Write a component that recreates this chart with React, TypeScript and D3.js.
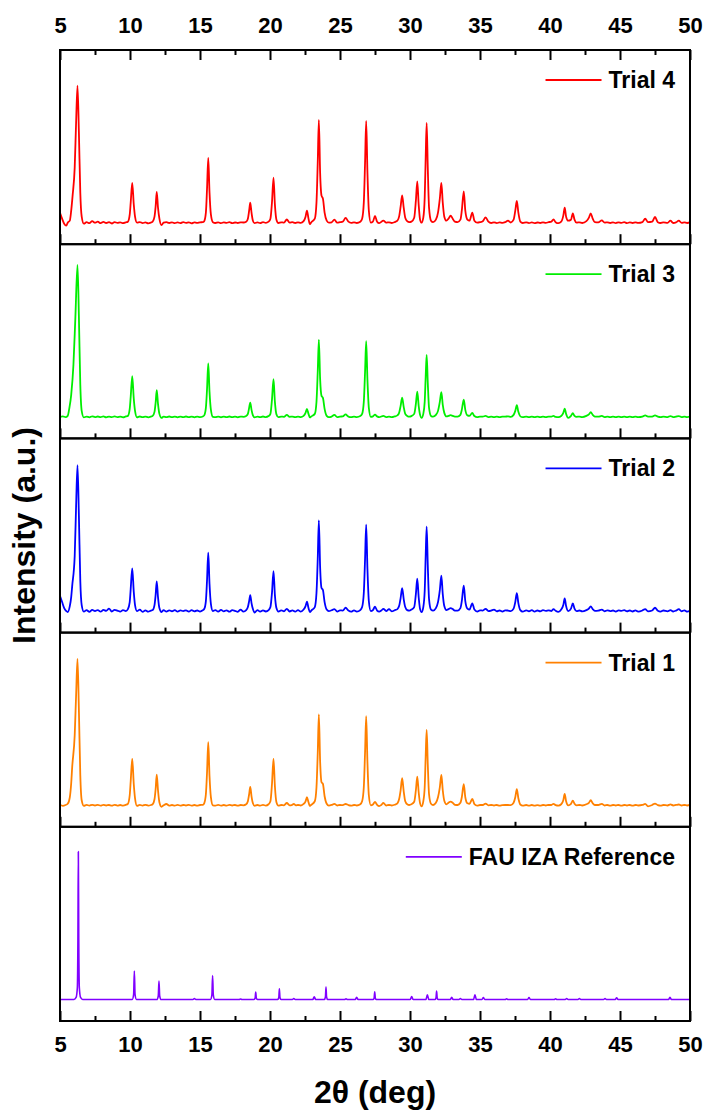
import React, { useRef, useEffect } from "react";
import * as d3 from "d3";

// x axis ticks (2 theta, deg)
const majorTicks = [5, 10, 15, 20, 25, 30, 35, 40, 45, 50];
const minorTicks = [7.5, 12.5, 17.5, 22.5, 27.5, 32.5, 37.5, 42.5, 47.5];

const seriesNames = ["Trial 4", "Trial 3", "Trial 2", "Trial 1", "FAU IZA Reference"];
const seriesColors = ["#ff0000", "#00ee00", "#0000ff", "#ff8000", "#8000ff"];

// [2theta, intensity a.u.]
const trial4 = [
  [5.0, 10], [5.15, 4], [5.3, -1], [5.45, -3], [5.55, 0], [5.7, 2], [5.8, 12], [5.9, 27], [6.05, 55], [6.15, 100], [6.25, 137], [6.35, 90], [6.45, 30], [6.55, 6], [6.7, -1],
  [6.9, 0.5], [7.1, -0.5], [7.3, 1.5], [7.5, 0], [7.7, 1], [7.9, -0.5], [8.1, 0.8], [8.3, -0.3], [8.5, 0.5], [8.7, -0.8], [8.9, 0.6], [9.1, -0.2], [9.3, 0.4], [9.5, -0.5], [9.7, 0.3],
  [9.85, 1], [9.98, 8], [10.05, 20], [10.16, 39.7], [10.27, 18], [10.36, 6], [10.5, 0],
  [10.7, 0.6], [10.9, -0.4], [11.1, 0.3], [11.3, -0.6], [11.5, 0.2],
  [11.62, 1], [11.75, 6], [11.83, 16], [11.91, 30.7], [12.0, 15], [12.1, 4], [12.25, -2.5], [12.4, 0],
  [12.6, 0.5], [12.8, -0.3], [13.0, 0.4], [13.2, -0.5], [13.4, 0.3], [13.6, -0.4], [13.8, 0.5], [14.0, -0.2], [14.2, 0.4], [14.4, -0.6], [14.6, 0.3], [14.8, -0.2], [15.0, 0.4], [15.2, 0.5],
  [15.3, 1.5], [15.42, 10], [15.5, 33], [15.59, 64.7], [15.68, 30], [15.78, 8], [15.92, 0.5],
  [16.1, -0.3], [16.3, 0.4], [16.5, -0.5], [16.7, 0.3], [16.9, -0.2], [17.1, 0.5], [17.3, -0.4], [17.5, 0.2], [17.7, -0.3], [17.9, 0.4], [18.1, 0.2], [18.3, 1],
  [18.42, 4], [18.51, 12], [18.59, 20], [18.68, 10], [18.78, 2], [18.9, -0.5],
  [19.1, 0.3], [19.3, -0.4], [19.5, 0.5], [19.7, -0.2], [19.9, 1],
  [20.03, 4], [20.14, 20], [20.25, 45], [20.35, 18], [20.46, 3], [20.6, -0.3],
  [20.8, 0.4], [21.0, 0], [21.2, 3.3], [21.4, 0], [21.6, 0.5], [21.8, -0.3], [22.0, 0.4], [22.2, -0.2], [22.4, 1.5],
  [22.54, 6], [22.64, 12], [22.75, 4], [22.85, -1.5], [22.95, 0.5],
  [23.2, 4], [23.32, 20], [23.41, 60], [23.49, 102.7], [23.58, 50], [23.68, 27], [23.78, 24], [23.9, 10], [24.05, 2], [24.2, 0],
  [24.4, 0.4], [24.6, 3], [24.8, 0], [25.0, 0.5], [25.2, 1], [25.4, 4.7], [25.6, 1], [25.8, -0.2], [26.0, 0.3], [26.2, -0.3], [26.45, 1],
  [26.58, 4], [26.7, 20], [26.79, 60], [26.87, 101.7], [26.96, 50], [27.06, 12], [27.2, 0],
  [27.35, 1], [27.5, 6.7], [27.65, 1], [27.8, -0.5], [28.1, 2], [28.3, 0], [28.5, 0.4], [28.7, -0.3], [28.9, 0.5], [29.1, 2],
  [29.22, 6], [29.33, 16], [29.44, 27.3], [29.55, 15], [29.66, 5], [29.8, 1.5], [29.95, 0.5], [30.1, 1],
  [30.3, 5], [30.42, 22], [30.52, 41.3], [30.62, 18], [30.72, 3], [30.83, 0],
  [30.95, 5], [31.05, 25], [31.12, 65], [31.19, 99.7], [31.27, 55], [31.36, 15], [31.5, 2], [31.65, 0.5], [31.85, 3],
  [32.0, 10], [32.13, 24], [32.24, 39.7], [32.34, 20], [32.45, 6], [32.6, 2],
  [32.75, 4], [32.9, 7], [33.05, 4], [33.2, 1], [33.4, 0.5], [33.6, 3],
  [33.7, 12], [33.84, 31.3], [33.95, 12], [34.1, 3], [34.25, 2],
  [34.45, 10], [34.6, 2], [34.8, 0], [35.0, 0.5], [35.2, 1.5], [35.4, 5.3], [35.6, 1], [35.8, -0.3], [36.0, 0.4], [36.2, -0.4], [36.4, 0.3], [36.6, -0.2], [36.8, 0.5], [37.0, 2], [37.2, 0.2], [37.4, 3],
  [37.52, 12], [37.63, 21.7], [37.74, 10], [37.88, 1], [38.05, -0.3], [38.3, 0.4], [38.5, -0.4], [38.7, 0.3], [38.9, -0.5], [39.1, 0.2], [39.3, -0.3], [39.5, 0.4], [39.7, -0.2], [39.9, 0.5], [40.1, 1],
  [40.25, 3.3], [40.4, 0.5], [40.6, -0.5], [40.8, 1],
  [40.95, 7], [41.05, 15], [41.15, 6], [41.3, 2],
  [41.5, 3], [41.63, 9.3], [41.75, 3], [41.9, 0], [42.1, 0.4], [42.3, -0.3], [42.6, 1.5],
  [42.78, 5], [42.91, 9.3], [43.05, 4], [43.2, 0.5], [43.45, 0.3], [43.7, 2.3], [43.9, 0], [44.1, 0.4], [44.3, -0.3], [44.5, 0.3], [44.7, -0.4], [44.9, 0.4], [45.1, -0.2], [45.3, 0.5], [45.5, -0.4], [45.7, 0.3], [45.9, -0.3], [46.1, 0.4], [46.3, -0.2], [46.6, 0.6],
  [46.8, 4], [47.0, 0.5], [47.3, 1], [47.5, 5.7], [47.7, 0.5], [47.9, -0.3], [48.1, 0.4], [48.4, -0.2], [48.6, 2], [48.8, -0.3], [49.0, 0.3], [49.2, 2], [49.4, -0.2], [49.6, 0.4], [49.8, -0.3], [50.0, 0.2],
];

const trial3 = [
  [5.0, 0], [5.2, 0.5], [5.4, -0.3], [5.55, 1], [5.67, 9], [5.8, 22], [5.96, 52], [6.1, 100], [6.25, 151.7], [6.35, 100], [6.45, 32], [6.55, 6], [6.7, -0.5],
  [6.9, 0.3], [7.1, -0.4], [7.3, 0.6], [7.5, -0.2], [7.7, 0.4], [7.9, -0.3], [8.1, 0.5], [8.3, -0.4], [8.5, 0.3], [8.7, -0.2], [8.9, 0.5], [9.1, -0.3], [9.3, 0.2], [9.5, -0.4], [9.7, 0.4],
  [9.85, 1], [9.98, 8], [10.05, 20], [10.16, 40.7], [10.27, 18], [10.36, 6], [10.5, -0.5],
  [10.7, 0.4], [10.9, -0.3], [11.1, 0.3], [11.3, -0.4], [11.5, 0.3],
  [11.62, 1], [11.75, 5], [11.83, 14], [11.91, 26.7], [12.0, 13], [12.1, 3], [12.25, -1], [12.4, 0.3],
  [12.6, -0.3], [12.8, 0.4], [13.0, -0.3], [13.2, 0.3], [13.4, -0.4], [13.6, 0.3], [13.8, -0.2], [14.0, 0.4], [14.2, -0.3], [14.4, 0.3], [14.6, -0.4], [14.8, 0.3], [15.0, -0.2], [15.2, 0.4],
  [15.3, 1.5], [15.42, 9], [15.5, 27], [15.59, 53.3], [15.68, 25], [15.78, 7], [15.92, 0],
  [16.1, -0.3], [16.3, 0.3], [16.5, -0.4], [16.7, 0.2], [16.9, -0.3], [17.1, 0.4], [17.3, -0.3], [17.5, 0.3], [17.7, -0.4], [17.9, 0.3], [18.1, 0], [18.3, 0.8],
  [18.42, 3], [18.51, 9], [18.59, 14.3], [18.68, 7], [18.78, 1.5], [18.9, -0.5],
  [19.1, 0.3], [19.3, -0.3], [19.5, 0.4], [19.7, -0.2], [19.9, 0.8],
  [20.03, 3], [20.14, 17], [20.25, 37.7], [20.35, 15], [20.46, 2.5], [20.6, -0.3],
  [20.8, 0.3], [21.0, 0], [21.2, 2], [21.4, 0], [21.6, 0.3], [21.8, -0.3], [22.0, 0.3], [22.2, -0.2], [22.4, 1],
  [22.54, 4], [22.64, 8], [22.75, 3], [22.85, -0.5], [22.95, 0.5],
  [23.2, 3], [23.32, 15], [23.41, 45], [23.49, 77], [23.58, 38], [23.68, 21], [23.78, 19], [23.9, 8], [24.05, 1], [24.2, -0.3],
  [24.4, 0.3], [24.6, 2], [24.8, -0.2], [25.0, 0.3], [25.2, 0.5], [25.4, 2.5], [25.6, 0.3], [25.8, -0.3], [26.0, 0.3], [26.2, -0.2], [26.45, 0.8],
  [26.58, 3], [26.7, 15], [26.79, 45], [26.87, 75.7], [26.96, 37], [27.06, 9], [27.2, 0],
  [27.35, 0.5], [27.5, 2.3], [27.65, 0.5], [27.8, -0.3], [28.1, 1], [28.3, -0.2], [28.5, 0.3], [28.7, -0.3], [28.9, 0.4], [29.1, 1.5],
  [29.22, 4], [29.33, 11], [29.44, 19.3], [29.55, 10], [29.66, 3], [29.8, 1], [29.95, 0.3], [30.1, 0.8],
  [30.3, 3], [30.42, 13], [30.52, 25.3], [30.62, 11], [30.72, 2], [30.83, -1],
  [30.95, 3], [31.05, 15], [31.12, 40], [31.19, 62], [31.27, 34], [31.36, 9], [31.5, 1], [31.65, 0.3], [31.85, 2],
  [32.0, 6], [32.13, 15], [32.24, 24.7], [32.34, 12], [32.45, 4], [32.6, 0.5],
  [32.75, 1], [32.9, 1.7], [33.05, 1], [33.2, 0.3], [33.4, 0.2], [33.6, 2],
  [33.7, 7], [33.84, 17.3], [33.95, 7], [34.1, 1.5], [34.25, 1],
  [34.45, 4], [34.6, 0.8], [34.8, -0.3], [35.0, 0.3], [35.2, 0.2], [35.4, 1], [35.6, -0.2], [35.8, 0.3], [36.0, -0.2], [36.2, 0.3], [36.4, -0.3], [36.6, 0.2], [36.8, 0.3], [37.0, 0.5], [37.2, 0], [37.4, 2],
  [37.52, 6], [37.63, 11.7], [37.74, 5], [37.88, 0.5], [38.05, -0.3], [38.3, 0.3], [38.5, -0.3], [38.7, 0.3], [38.9, -0.3], [39.1, 0.2], [39.3, -0.3], [39.5, 0.3], [39.7, -0.2], [39.9, 0.3], [40.1, 0.3],
  [40.25, 1], [40.4, 0], [40.6, -0.3], [40.8, 0.8],
  [40.95, 4], [41.05, 8.3], [41.15, 3], [41.3, -1],
  [41.5, 1], [41.63, 3.7], [41.75, 1], [41.9, 0], [42.1, 0.3], [42.3, -0.2], [42.6, 1],
  [42.78, 2.5], [42.91, 4.7], [43.05, 2], [43.2, 0.3], [43.45, 0.2], [43.7, 1], [43.9, -0.2], [44.1, 0.3], [44.3, -0.3], [44.5, 0.2], [44.7, -0.3], [44.9, 0.3], [45.1, -0.2], [45.3, 0.3], [45.5, -0.3], [45.7, 0.2], [45.9, -0.3], [46.1, 0.3], [46.3, -0.2], [46.6, 0.3],
  [46.8, 1.5], [47.0, 0.2], [47.3, 0.3], [47.5, 1.5], [47.7, 0.2], [47.9, -0.3], [48.1, 0.3], [48.4, -0.2], [48.6, 0.8], [48.8, -0.2], [49.0, 0.3], [49.2, 0.8], [49.4, -0.2], [49.6, 0.3], [49.8, -0.2], [50.0, 0.2],
];

const trial2 = [
  [5.0, 15], [5.15, 9], [5.3, 3], [5.45, 0], [5.55, -1], [5.7, 5], [5.8, 14], [5.87, 25], [6.05, 55], [6.15, 105], [6.25, 145.7], [6.35, 95], [6.45, 30], [6.55, 6], [6.7, -0.5],
  [6.9, 1], [7.1, -0.8], [7.3, 1.2], [7.5, 0], [7.7, 1], [7.9, -0.6], [8.1, 1.2], [8.3, 0.2], [8.5, 2.5], [8.7, -0.5], [8.9, 1.3], [9.1, 0.5], [9.3, -0.5], [9.5, 1], [9.7, 0],
  [9.85, 2], [9.98, 9], [10.05, 22], [10.16, 42.7], [10.27, 19], [10.36, 6], [10.5, 0],
  [10.7, 1.5], [10.9, -0.8], [11.1, 0.8], [11.3, -0.6], [11.5, 0.5],
  [11.62, 1], [11.75, 6], [11.83, 16], [11.91, 29.7], [12.0, 14], [12.1, 3], [12.25, -1], [12.4, 1],
  [12.6, -0.5], [12.8, 0.8], [13.0, -0.3], [13.2, 1], [13.4, -0.6], [13.6, 0.7], [13.8, 0], [14.0, 0.8], [14.2, -0.5], [14.4, 1], [14.6, -0.3], [14.8, 0.6], [15.0, -0.5], [15.2, 0.8],
  [15.3, 2], [15.42, 10], [15.5, 30], [15.59, 58.3], [15.68, 27], [15.78, 7], [15.92, 0],
  [16.1, 1], [16.3, -0.5], [16.5, 1.2], [16.7, -0.3], [16.9, 0.8], [17.1, -0.6], [17.3, 0.9], [17.5, 0.2], [17.7, -0.7], [17.9, 1.5], [18.1, -0.5], [18.3, 1],
  [18.42, 4], [18.51, 10], [18.59, 16], [18.68, 8], [18.78, 2], [18.9, -1.5],
  [19.1, 1], [19.3, -0.5], [19.5, 0.8], [19.7, -0.4], [19.9, 1],
  [20.03, 4], [20.14, 18], [20.25, 40], [20.35, 16], [20.46, 3], [20.6, -0.5],
  [20.8, 0.8], [21.0, -0.3], [21.2, 2.3], [21.4, -0.4], [21.6, 0.8], [21.8, -0.5], [22.0, 0.9], [22.2, -0.5], [22.4, 1.5],
  [22.54, 5], [22.64, 9.3], [22.75, 3], [22.85, -1], [22.95, 0.5],
  [23.2, 4], [23.32, 18], [23.41, 52], [23.49, 90.7], [23.58, 44], [23.68, 23], [23.78, 21], [23.9, 9], [24.05, 1.5], [24.2, 0],
  [24.4, 0.8], [24.6, 2], [24.8, -0.5], [25.0, 0.8], [25.2, 0.5], [25.4, 3.3], [25.6, 0.5], [25.8, -0.6], [26.0, 0.8], [26.2, -0.5], [26.45, 1],
  [26.58, 4], [26.7, 18], [26.79, 52], [26.87, 86.3], [26.96, 42], [27.06, 10], [27.2, 0],
  [27.35, 1], [27.5, 4.3], [27.65, 0.5], [27.8, -0.6], [27.95, 0.5], [28.1, 2.3], [28.3, 0], [28.5, 2], [28.7, -0.3], [28.9, 0.8], [29.1, 2],
  [29.22, 5], [29.33, 13], [29.44, 23], [29.55, 12], [29.66, 4], [29.8, 1], [29.95, 0.5], [30.1, 1.5],
  [30.3, 4], [30.42, 17], [30.52, 32.3], [30.62, 14], [30.72, 2], [30.83, -1],
  [30.95, 4], [31.05, 20], [31.12, 55], [31.19, 84.3], [31.27, 46], [31.36, 12], [31.5, 1.5], [31.65, 0.5], [31.85, 3],
  [32.0, 9], [32.13, 21], [32.24, 35.3], [32.34, 17], [32.45, 5], [32.6, 1],
  [32.75, 2], [32.9, 3], [33.05, 2], [33.2, 0.5], [33.4, 0.5], [33.6, 3],
  [33.7, 10], [33.84, 25.3], [33.95, 10], [34.1, 2.5], [34.25, 1.5],
  [34.45, 7.7], [34.6, 1.5], [34.8, -0.5], [35.0, 0.8], [35.2, 0.5], [35.4, 2.3], [35.6, 0], [35.8, 0.5], [36.0, 1.5], [36.2, -0.3], [36.4, 0.6], [36.6, -0.5], [36.8, 0.8], [37.0, 0.5], [37.2, 0], [37.4, 2.5],
  [37.52, 9], [37.63, 18], [37.74, 8], [37.88, 1], [38.05, -0.5], [38.3, 0.8], [38.5, -0.3], [38.7, 1], [38.9, -0.6], [39.1, 0.6], [39.3, -0.3], [39.5, 1], [39.7, 0.2], [39.9, 0.8], [40.1, 0],
  [40.25, 2], [40.4, 0.3], [40.6, -0.8], [40.8, 1.5],
  [40.95, 6], [41.05, 12.7], [41.15, 5], [41.3, 0],
  [41.5, 2.5], [41.63, 7.7], [41.75, 2.5], [41.9, 0], [42.1, 0.6], [42.3, -0.3], [42.6, 1],
  [42.78, 2.5], [42.91, 4.7], [43.05, 2], [43.2, 0.3], [43.45, 0.5], [43.7, 1.5], [43.9, -0.3], [44.1, 0.8], [44.3, 0], [44.5, 0.6], [44.7, -0.5], [44.9, 0.8], [45.1, 0.2], [45.3, 1], [45.5, -0.3], [45.7, 0.6], [45.9, -0.4], [46.1, 0.8], [46.3, -0.5], [46.6, 0.6],
  [46.8, 2], [47.0, -0.3], [47.3, 0.6], [47.5, 3.3], [47.7, 0.3], [47.9, -0.5], [48.1, 0.6], [48.4, -0.3], [48.6, 1], [48.8, -0.4], [49.0, 0.5], [49.2, 2], [49.4, -0.3], [49.6, 0.8], [49.8, -0.6], [50.0, 0.3],
];

const trial1 = [
  [5.0, 0.5], [5.2, -0.5], [5.4, 0.3], [5.55, 1.5], [5.7, 8], [5.8, 22], [5.87, 38], [6.05, 70], [6.15, 110], [6.25, 146.3], [6.35, 95], [6.45, 30], [6.55, 5], [6.7, -0.5],
  [6.9, 0.4], [7.1, -0.3], [7.3, 0.5], [7.5, -0.2], [7.7, 0.4], [7.9, -0.4], [8.1, 0.5], [8.3, -0.2], [8.5, 0.3], [8.7, -0.4], [8.9, 0.5], [9.1, -0.3], [9.3, 0.3], [9.5, -0.3], [9.7, 0.4],
  [9.85, 1.5], [9.98, 10], [10.05, 24], [10.16, 46.3], [10.27, 21], [10.36, 7], [10.5, -0.5],
  [10.7, 0.4], [10.9, -0.3], [11.1, 0.5], [11.3, -0.3], [11.5, 0.3],
  [11.62, 1], [11.75, 6], [11.83, 16], [11.91, 30.7], [12.0, 15], [12.1, 3], [12.25, -1.5], [12.4, 0],
  [12.6, 1.3], [12.8, -0.3], [13.0, 0.3], [13.2, -0.3], [13.4, 0.4], [13.6, -0.3], [13.8, 0.3], [14.0, -0.2], [14.2, 0.4], [14.4, -0.3], [14.6, 0.3], [14.8, -0.3], [15.0, 0.3], [15.2, 0.4],
  [15.3, 2], [15.42, 11], [15.5, 32], [15.59, 63], [15.68, 29], [15.78, 8], [15.92, 0],
  [16.1, -0.3], [16.3, 0.4], [16.5, -0.3], [16.7, 0.3], [16.9, -0.3], [17.1, 0.4], [17.3, -0.2], [17.5, 0.3], [17.7, -0.3], [17.9, 0.3], [18.1, 0], [18.3, 1],
  [18.42, 4], [18.51, 11], [18.59, 18.3], [18.68, 9], [18.78, 2], [18.9, -0.5],
  [19.1, 0.3], [19.3, -0.3], [19.5, 0.4], [19.7, -0.3], [19.9, 1],
  [20.03, 4], [20.14, 21], [20.25, 46.3], [20.35, 19], [20.46, 3], [20.6, -0.3],
  [20.8, 0.3], [21.0, 0], [21.2, 2.3], [21.4, 0], [21.55, 0.2], [21.7, 1.3], [21.85, 0], [22.0, 0.3], [22.2, -0.2], [22.4, 1.3],
  [22.54, 4], [22.64, 8], [22.75, 3], [22.85, -0.8], [22.95, 0.5],
  [23.2, 4], [23.32, 18], [23.41, 52], [23.49, 90.7], [23.58, 44], [23.68, 23], [23.78, 21.3], [23.9, 9], [24.05, 1.5], [24.2, -0.3],
  [24.4, 0.3], [24.6, 1.5], [24.8, -0.2], [25.0, 0.3], [25.2, 0.2], [25.4, 1.3], [25.6, 0.2], [25.8, -0.3], [26.0, 0.3], [26.2, -0.2], [26.45, 1],
  [26.58, 4], [26.7, 18], [26.79, 53], [26.87, 89], [26.96, 43], [27.06, 10], [27.2, 0],
  [27.35, 0.8], [27.5, 3.3], [27.65, 0.5], [27.8, -0.8], [27.95, 0.3], [28.1, 2.3], [28.3, -0.2], [28.5, 0.3], [28.7, -0.2], [28.9, 0.5], [29.1, 2],
  [29.22, 6], [29.33, 15], [29.44, 27], [29.55, 14], [29.66, 4], [29.8, 1], [29.95, 0.3], [30.1, 1],
  [30.3, 3.5], [30.42, 15], [30.52, 28.7], [30.62, 13], [30.72, 2], [30.83, -1],
  [30.95, 4], [31.05, 18], [31.12, 49], [31.19, 75.3], [31.27, 41], [31.36, 11], [31.5, 1.5], [31.65, 0.3], [31.85, 2.5],
  [32.0, 8], [32.13, 18], [32.24, 30.3], [32.34, 15], [32.45, 4.5], [32.6, 1],
  [32.75, 2.5], [32.9, 3.7], [33.05, 2.5], [33.2, 0.5], [33.4, 0.3], [33.6, 2.5],
  [33.7, 8], [33.84, 21], [33.95, 8], [34.1, 2], [34.25, 1.5],
  [34.45, 6.3], [34.6, 1.2], [34.8, -0.3], [35.0, 0.3], [35.2, 0.3], [35.4, 1.7], [35.6, 0], [35.8, 0.3], [36.0, -0.2], [36.2, 0.3], [36.4, -0.3], [36.6, 0.2], [36.8, 0.3], [37.0, 0.3], [37.2, 0.2], [37.4, 2.5],
  [37.52, 8], [37.63, 16], [37.74, 7], [37.88, 0.8], [38.05, -0.3], [38.3, 0.3], [38.5, -0.3], [38.7, 0.3], [38.9, -0.3], [39.1, 0.2], [39.3, -0.3], [39.5, 0.3], [39.7, -0.2], [39.9, 0.3], [40.1, 0.3],
  [40.25, 1.5], [40.4, 0.2], [40.6, -0.3], [40.8, 1],
  [40.95, 5], [41.05, 11.3], [41.15, 4], [41.3, 0],
  [41.5, 1.5], [41.63, 4.7], [41.75, 1.5], [41.9, 0], [42.1, 0.3], [42.3, -0.2], [42.6, 1],
  [42.78, 2.5], [42.91, 5], [43.05, 2], [43.2, 0.3], [43.45, 0.3], [43.7, 1.5], [43.9, -0.2], [44.1, 0.3], [44.3, -0.3], [44.5, 0.3], [44.7, -0.2], [44.9, 0.3], [45.1, -0.3], [45.3, 0.3], [45.5, -0.2], [45.7, 0.3], [45.9, -0.3], [46.1, 0.3], [46.3, -0.2], [46.6, 0.3],
  [46.8, 1.5], [47.0, -1], [47.3, 0.3], [47.5, 1.7], [47.7, 0.2], [47.9, -0.3], [48.1, 0.3], [48.4, -0.2], [48.6, 1], [48.8, -0.2], [49.0, 0.3], [49.2, 0.8], [49.4, -0.2], [49.6, 0.3], [49.8, -0.2], [50.0, 0.3],
];

const fauReference = [
  [5.0, 0], [6.0, 0], [6.15, 2], [6.24, 12], [6.28, 60], [6.31, 147.7], [6.34, 60], [6.38, 12], [6.47, 2], [6.62, 0],
  [10.16, 0], [10.26, 5], [10.31, 28.3], [10.36, 5], [10.46, 0],
  [11.92, 0], [12.02, 3.5], [12.07, 18.3], [12.12, 3.5], [12.22, 0],
  [14.5, 0], [14.6, 1], [14.7, 0],
  [15.75, 0], [15.85, 4.5], [15.9, 24], [15.95, 4.5], [16.05, 0],
  [17.8, 0], [17.9, 0.5], [18.0, 0],
  [18.86, 0], [18.94, 1.5], [18.98, 7.3], [19.02, 1.5], [19.1, 0],
  [20.55, 0], [20.63, 2], [20.67, 10.7], [20.71, 2], [20.79, 0],
  [21.6, 0], [21.7, 1], [21.8, 0],
  [23.06, 0], [23.16, 2.7], [23.26, 0],
  [23.88, 0], [23.96, 2.5], [24.0, 12.3], [24.04, 2.5], [24.12, 0],
  [25.33, 0], [25.43, 0.7], [25.53, 0],
  [26.09, 0], [26.19, 2.3], [26.29, 0],
  [27.38, 0], [27.44, 1.5], [27.48, 7.7], [27.52, 1.5], [27.58, 0],
  [30.02, 0], [30.12, 3], [30.22, 0],
  [31.14, 0], [31.24, 4.7], [31.34, 0],
  [31.8, 0], [31.86, 1.7], [31.9, 8.3], [31.94, 1.7], [32.0, 0],
  [32.88, 0], [32.98, 2.3], [33.08, 0],
  [33.5, 0], [33.6, 1], [33.7, 0],
  [34.54, 0], [34.64, 4.7], [34.74, 0],
  [35.14, 0], [35.24, 2], [35.34, 0],
  [36.8, 0], [36.9, 0.7], [37.0, 0],
  [38.4, 0], [38.5, 2], [38.6, 0],
  [40.3, 0], [40.4, 0.7], [40.5, 0],
  [41.09, 0], [41.19, 1], [41.29, 0],
  [42.0, 0], [42.1, 1], [42.2, 0],
  [43.83, 0], [43.93, 1], [44.03, 0],
  [44.66, 0], [44.76, 1.7], [44.86, 0],
  [48.47, 0], [48.57, 2.3], [48.67, 0],
  [50.0, 0],
];

const seriesData = [trial4, trial3, trial2, trial1, fauReference];

export default function App() {
  const svgRef = useRef<SVGSVGElement>(null);
  const width = 706;
  const height = 1111;

  useEffect(() => {
    const svg = d3.select(svgRef.current);
    svg.selectAll("*").remove();

    const font = "'Liberation Sans', Arial, Helvetica, sans-serif";
    const left = 60, right = 690, top = 50, bottom = 1021;
    const panelH = (bottom - top) / seriesData.length;

    const x = d3.scaleLinear().domain([5, 50]).range([left, right]);

    seriesData.forEach((data, i) => {
      const pTop = top + i * panelH;
      const pBottom = pTop + panelH;
      const y = d3.scaleLinear().domain([-21.5, 172.5]).range([pBottom, pTop]);

      const line = d3
        .line<number[]>()
        .x((d) => x(d[0]))
        .y((d) => y(d[1]))
        .curve(d3.curveMonotoneX);

      svg
        .append("path")
        .datum(data)
        .attr("fill", "none")
        .attr("stroke", seriesColors[i])
        .attr("stroke-width", i === 4 ? 1.6 : 1.8)
        .attr("stroke-linejoin", "round")
        .attr("d", line);

      // inward ticks along the bottom of every panel
      const major = svg
        .append("g")
        .attr("transform", `translate(0,${pBottom})`)
        .call(d3.axisBottom(x).tickValues(majorTicks).tickSize(-10).tickFormat(() => ""));
      const minor = svg
        .append("g")
        .attr("transform", `translate(0,${pBottom})`)
        .call(d3.axisBottom(x).tickValues(minorTicks).tickSize(-5).tickFormat(() => ""));
      [major, minor].forEach((g) => {
        g.select(".domain").remove();
        g.selectAll("line").attr("stroke", "#000").attr("stroke-width", 2);
      });

      svg
        .append("rect")
        .attr("x", left)
        .attr("y", pTop)
        .attr("width", right - left)
        .attr("height", panelH)
        .attr("fill", "none")
        .attr("stroke", "#000")
        .attr("stroke-width", 2);

      // legend
      const legendY = pTop + 30;
      const label = svg
        .append("text")
        .attr("x", 675)
        .attr("y", legendY)
        .attr("dy", "0.35em")
        .attr("text-anchor", "end")
        .attr("font-family", font)
        .attr("font-weight", "bold")
        .attr("font-size", 23)
        .text(seriesNames[i]);
      const tw = (label.node() as SVGTextElement).getComputedTextLength();
      svg
        .append("line")
        .attr("x1", 675 - tw - 63)
        .attr("x2", 675 - tw - 7)
        .attr("y1", legendY)
        .attr("y2", legendY)
        .attr("stroke", seriesColors[i])
        .attr("stroke-width", 1.8);
    });

    // top axis: inward ticks + labels
    const topMajor = svg
      .append("g")
      .attr("transform", `translate(0,${top})`)
      .call(d3.axisTop(x).tickValues(majorTicks).tickSize(-10).tickPadding(17));
    const topMinor = svg
      .append("g")
      .attr("transform", `translate(0,${top})`)
      .call(d3.axisTop(x).tickValues(minorTicks).tickSize(-5).tickFormat(() => ""));
    const bottomLabels = svg
      .append("g")
      .attr("transform", `translate(0,${bottom})`)
      .call(d3.axisBottom(x).tickValues(majorTicks).tickSize(0).tickPadding(15));
    [topMajor, topMinor, bottomLabels].forEach((g) => {
      g.select(".domain").remove();
      g.selectAll("line").attr("stroke", "#000").attr("stroke-width", 2);
      g.selectAll("text")
        .attr("font-family", font)
        .attr("font-weight", "bold")
        .attr("font-size", 22)
        .attr("fill", "#000");
    });

    svg
      .append("text")
      .attr("x", (left + right) / 2)
      .attr("y", 1103)
      .attr("text-anchor", "middle")
      .attr("font-family", font)
      .attr("font-weight", "bold")
      .attr("font-size", 32)
      .text("2θ (deg)");

    svg
      .append("text")
      .attr("transform", `translate(35,${(top + bottom) / 2}) rotate(-90)`)
      .attr("text-anchor", "middle")
      .attr("font-family", font)
      .attr("font-weight", "bold")
      .attr("font-size", 32)
      .text("Intensity (a.u.)");
  }, []);

  return (
    <svg
      ref={svgRef}
      width={width}
      height={height}
      style={{ position: "absolute", left: 0, top: 0, background: "#fff" }}
    ></svg>
  );
}
